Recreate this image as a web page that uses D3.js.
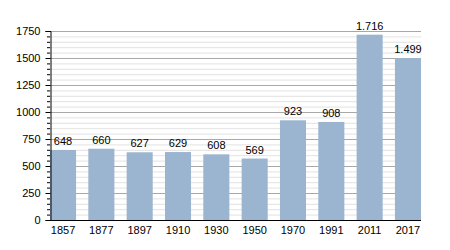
<!DOCTYPE html>
<html><head><meta charset="utf-8">
<script src="https://cdn.jsdelivr.net/npm/d3@7"></script>
<style>body{margin:0;background:#fff}svg{display:block}text{font-family:"Liberation Sans",Arial,sans-serif}</style>
</head><body><svg id="c" width="450" height="250"></svg>
<script>
const years = ["1857","1877","1897","1910","1930","1950","1970","1991","2011","2017"];
const population = [648,660,627,629,608,569,923,908,1716,1499];
const valueLabels = ["648","660","627","629","608","569","923","908","1.716","1.499"];
const yTicks = [0,250,500,750,1000,1250,1500,1750];

const svg = d3.select("#c");
const x = d3.scaleBand().domain(years).range([50,421]).paddingInner(0.32).paddingOuter(0);
const y = d3.scaleLinear().domain([0,1750]).range([220,31]);

// minor gridlines
const minor = d3.range(50,1751,50).filter(v=>v%250!==0);
svg.append("g").selectAll("line").data(minor).join("line")
  .attr("x1",50).attr("x2",421).attr("y1",d=>y(d)+0.5).attr("y2",d=>y(d)+0.5)
  .attr("stroke","#e2e2e2").attr("stroke-width",1);
svg.append("g").selectAll("line").data(yTicks.filter(v=>v>0)).join("line")
  .attr("x1",50).attr("x2",421).attr("y1",d=>y(d)+0.5).attr("y2",d=>y(d)+0.5)
  .attr("stroke","#a8a8a8").attr("stroke-width",1);

// bars
svg.append("g").selectAll("rect").data(population).join("rect")
  .attr("x",(d,i)=>x(years[i])).attr("width",x.bandwidth())
  .attr("y",d=>y(d)).attr("height",d=>y(0)-y(d))
  .attr("fill","#9bb4d0");

// value labels
svg.append("g").selectAll("text").data(population).join("text")
  .attr("x",(d,i)=>x(years[i])+x.bandwidth()/2).attr("y",d=>y(d)-5)
  .attr("text-anchor","middle").attr("font-size",11).attr("fill","#000")
  .text((d,i)=>valueLabels[i]);

// y axis
const yAxis = d3.axisLeft(y).tickValues(yTicks).tickSize(5).tickPadding(5).tickFormat(d3.format("d"));
const gy = svg.append("g").attr("transform","translate(50.5,0)").call(yAxis);
gy.selectAll("text").attr("font-size",11).attr("fill","#000").style("font-family",'"Liberation Sans",Arial,sans-serif');
gy.select(".domain").attr("stroke","#000");
gy.selectAll(".tick line").attr("stroke","#000");
// minor ticks
svg.append("g").selectAll("line").data(minor).join("line")
  .attr("x1",47).attr("x2",50).attr("y1",d=>y(d)+0.5).attr("y2",d=>y(d)+0.5)
  .attr("stroke","#000");

// x axis
const xAxis = d3.axisBottom(x).tickSize(0).tickPadding(6);
const gx = svg.append("g").attr("transform","translate(0,220.5)").call(xAxis);
gx.select(".domain").attr("stroke","#000").attr("d","M50,0H421");
gx.selectAll("text").attr("font-size",11).attr("fill","#000").style("font-family",'"Liberation Sans",Arial,sans-serif');
</script></body></html>
